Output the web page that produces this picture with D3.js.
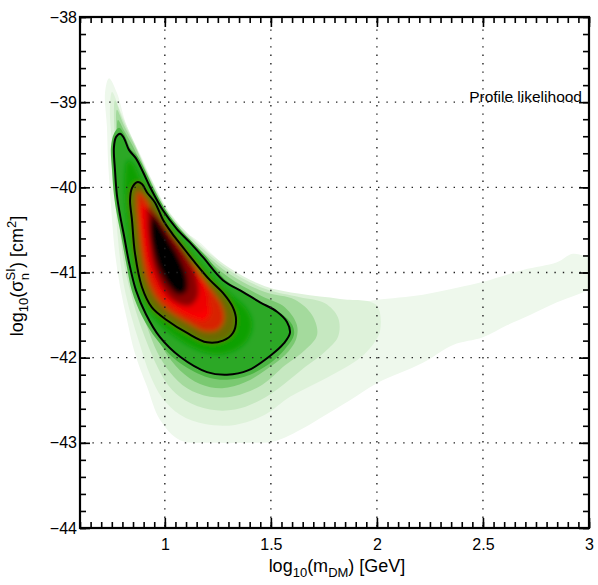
<!DOCTYPE html>
<html>
<head>
<meta charset="utf-8">
<script src="https://cdn.jsdelivr.net/npm/d3@7"></script>
<style>
  body { margin: 0; background: #fff; }
  svg text { font-family: "Liberation Sans", Arial, sans-serif; fill: #000; }
</style>
</head>
<body>
<div id="chart"></div>
<script>
// step 1. DATA (data units: log10 mDM, log10 sigma)
const xMajor = [1, 1.5, 2, 2.5, 3];
const yMajor = [-44, -43, -42, -41, -40, -39, -38];
const xGrid = [1, 1.5, 2, 2.5];
const yGrid = [-43, -42, -41, -40, -39];

// outer likelihood bands, lightest first
const band1 = [[0.737,-38.72],[0.774,-38.89],[0.822,-39.29],[0.897,-39.68],[0.963,-40.07],[1.057,-40.47],[1.152,-40.62],[1.307,-40.97],[1.463,-41.17],[1.590,-41.24],[1.906,-41.35],[2.000,-41.32],[2.217,-41.26],[2.378,-41.18],[2.500,-41.11],[2.689,-40.97],[2.849,-40.88],[2.924,-40.78],[3.005,-40.82],[3.05,-40.80],[3.05,-41.21],[3.000,-41.21],[2.943,-41.26],[2.849,-41.35],[2.722,-41.50],[2.613,-41.62],[2.500,-41.76],[2.359,-41.85],[2.217,-42.06],[2.000,-42.30],[1.873,-42.50],[1.732,-42.71],[1.637,-42.85],[1.519,-42.98],[1.402,-43.00],[1.213,-43.00],[1.072,-42.97],[0.977,-42.73],[0.916,-42.34],[0.859,-41.95],[0.822,-41.56],[0.789,-41.17],[0.765,-40.77],[0.751,-40.38],[0.741,-40.03],[0.732,-39.68],[0.727,-39.29],[0.718,-38.89]];
const band2 = [[0.751,-38.88],[0.793,-39.12],[0.855,-39.47],[0.930,-39.87],[1.024,-40.30],[1.142,-40.62],[1.307,-40.95],[1.472,-41.16],[1.637,-41.25],[1.826,-41.31],[1.996,-41.38],[2.015,-41.68],[1.967,-41.89],[1.906,-42.03],[1.746,-42.26],[1.590,-42.46],[1.472,-42.67],[1.331,-42.79],[1.189,-42.78],[1.072,-42.67],[0.987,-42.47],[0.930,-42.20],[0.883,-41.85],[0.840,-41.50],[0.807,-41.15],[0.784,-40.74],[0.770,-40.32],[0.760,-39.91],[0.751,-39.50],[0.741,-39.09]];
const band3 = [[0.765,-38.98],[0.803,-39.21],[0.859,-39.50],[0.930,-39.89],[1.024,-40.32],[1.142,-40.64],[1.307,-40.98],[1.472,-41.19],[1.637,-41.29],[1.755,-41.36],[1.817,-41.53],[1.817,-41.75],[1.755,-41.93],[1.661,-42.11],[1.557,-42.32],[1.449,-42.50],[1.331,-42.61],[1.213,-42.61],[1.095,-42.50],[1.015,-42.32],[0.954,-42.05],[0.907,-41.77],[0.864,-41.46],[0.826,-41.11],[0.798,-40.74],[0.784,-40.32],[0.774,-39.91],[0.765,-39.44],[0.760,-39.15]];
const band4 = [[0.774,-39.09],[0.807,-39.27],[0.864,-39.54],[0.930,-39.91],[1.024,-40.35],[1.142,-40.67],[1.307,-41.02],[1.472,-41.23],[1.614,-41.32],[1.694,-41.50],[1.718,-41.73],[1.661,-41.91],[1.567,-42.09],[1.458,-42.32],[1.331,-42.45],[1.213,-42.46],[1.105,-42.36],[1.024,-42.17],[0.963,-41.93],[0.921,-41.67],[0.878,-41.38],[0.840,-41.06],[0.812,-40.71],[0.793,-40.32],[0.784,-39.91],[0.774,-39.50],[0.770,-39.27]];
const band5 = [[0.779,-39.21],[0.807,-39.33],[0.864,-39.59],[0.925,-39.95],[1.015,-40.36],[1.133,-40.68],[1.298,-41.05],[1.458,-41.28],[1.567,-41.41],[1.623,-41.62],[1.618,-41.79],[1.567,-41.97],[1.472,-42.15],[1.378,-42.29],[1.270,-42.36],[1.166,-42.31],[1.072,-42.15],[0.996,-41.91],[0.944,-41.65],[0.897,-41.35],[0.855,-41.01],[0.826,-40.68],[0.803,-40.32],[0.789,-39.97],[0.779,-39.62],[0.774,-39.33]];
const band6 = [[0.784,-39.30],[0.807,-39.37],[0.840,-39.55],[0.873,-39.64],[0.911,-39.82],[0.949,-40.02],[1.005,-40.27],[1.072,-40.49],[1.133,-40.65],[1.194,-40.81],[1.288,-41.09],[1.383,-41.24],[1.463,-41.37],[1.548,-41.48],[1.600,-41.61],[1.609,-41.73],[1.576,-41.87],[1.510,-42.04],[1.402,-42.20],[1.293,-42.26],[1.189,-42.22],[1.058,-42.04],[0.963,-41.79],[0.892,-41.51],[0.845,-41.22],[0.817,-40.88],[0.793,-40.56],[0.774,-40.32],[0.760,-40.09],[0.751,-39.80],[0.746,-39.53],[0.760,-39.37]];

// 95% and 68% credible contours
const contour95 = [[0.789,-39.37],[0.807,-39.42],[0.831,-39.56],[0.864,-39.66],[0.897,-39.82],[0.935,-40.02],[0.991,-40.27],[1.057,-40.49],[1.119,-40.65],[1.180,-40.82],[1.274,-41.09],[1.369,-41.23],[1.449,-41.35],[1.529,-41.46],[1.576,-41.58],[1.590,-41.71],[1.562,-41.83],[1.496,-41.98],[1.392,-42.15],[1.293,-42.20],[1.199,-42.17],[1.072,-41.99],[0.977,-41.76],[0.911,-41.49],[0.864,-41.21],[0.831,-40.88],[0.807,-40.56],[0.789,-40.33],[0.774,-40.09],[0.765,-39.80],[0.760,-39.53],[0.770,-39.41]];
const contour68 = [[0.869,-39.94],[0.892,-39.96],[0.916,-40.06],[0.954,-40.18],[0.991,-40.38],[1.034,-40.54],[1.081,-40.69],[1.138,-40.87],[1.213,-41.09],[1.274,-41.24],[1.321,-41.41],[1.336,-41.56],[1.321,-41.71],[1.274,-41.80],[1.199,-41.82],[1.105,-41.71],[1.010,-41.56],[0.939,-41.41],[0.892,-41.17],[0.859,-40.77],[0.845,-40.38],[0.836,-40.15],[0.845,-40.01]];

// smooth core levels (green peak -> red -> black)
const core1 = [[0.826,-39.68],[0.855,-39.74],[0.883,-39.89],[0.921,-40.03],[0.963,-40.21],[1.010,-40.41],[1.062,-40.57],[1.119,-40.74],[1.175,-40.91],[1.251,-41.12],[1.321,-41.28],[1.383,-41.42],[1.411,-41.58],[1.397,-41.76],[1.340,-41.90],[1.251,-41.96],[1.156,-41.91],[1.057,-41.77],[0.968,-41.58],[0.907,-41.38],[0.869,-41.15],[0.840,-40.79],[0.822,-40.41],[0.812,-40.09],[0.812,-39.86]];
const core2 = [[0.873,-40.05],[0.902,-40.11],[0.940,-40.27],[0.982,-40.45],[1.034,-40.62],[1.095,-40.81],[1.166,-41.03],[1.227,-41.23],[1.270,-41.40],[1.279,-41.56],[1.251,-41.67],[1.189,-41.69],[1.109,-41.59],[1.024,-41.46],[0.963,-41.31],[0.921,-41.11],[0.892,-40.79],[0.878,-40.44],[0.869,-40.21]];
const core3 = [[0.883,-40.21],[0.916,-40.29],[0.958,-40.48],[1.010,-40.68],[1.072,-40.88],[1.142,-41.11],[1.194,-41.30],[1.213,-41.46],[1.189,-41.56],[1.119,-41.52],[1.034,-41.39],[0.977,-41.24],[0.940,-41.03],[0.911,-40.74],[0.892,-40.48]];
const core4 = [[0.892,-40.21],[0.940,-40.30],[1.005,-40.52],[1.081,-40.74],[1.156,-40.99],[1.204,-41.26],[1.194,-41.44],[1.138,-41.49],[1.053,-41.38],[0.977,-41.21],[0.925,-40.95],[0.892,-40.62],[0.878,-40.36]];
const core5 = [[0.921,-40.23],[0.963,-40.32],[1.024,-40.52],[1.095,-40.76],[1.147,-41.03],[1.156,-41.28],[1.119,-41.39],[1.048,-41.35],[0.987,-41.18],[0.944,-40.92],[0.925,-40.62],[0.916,-40.38]];
const core6 = [[0.944,-40.34],[0.980,-40.45],[1.027,-40.64],[1.074,-40.85],[1.105,-41.06],[1.100,-41.23],[1.062,-41.26],[1.015,-41.15],[0.970,-40.95],[0.942,-40.71],[0.930,-40.49]];

const bandColors = ["#eef8ec", "#def2da", "#c6e8c1", "#a4da9d", "#7ac971", "#4cb543", "#2ca826"];
const coreColors = ["#08a004", "#6a6a00", "#d82200", "#ff0000", "#f00000", "#8a0000", "#000000"];

// step 2. SIZES AND SCALES
const width = 598, height = 585;
const plotLeft = 80, plotRight = 589, plotTop = 17, plotBottom = 528;

const xScale = d3.scaleLinear().domain([0.6, 3]).range([plotLeft, plotRight]);
const yScale = d3.scaleLinear().domain([-44, -38]).range([plotBottom, plotTop]);

const svg = d3.select("#chart").append("svg")
  .attr("width", width)
  .attr("height", height);

svg.append("defs").call(defs => {
  defs.append("clipPath").attr("id", "plotclip")
    .append("rect").attr("x", plotLeft).attr("y", plotTop)
    .attr("width", plotRight - plotLeft).attr("height", plotBottom - plotTop);
  defs.append("filter").attr("id", "soft")
    .attr("x", "-20%").attr("y", "-20%").attr("width", "140%").attr("height", "140%")
    .append("feGaussianBlur").attr("stdDeviation", 2.6);
});

const shape = d3.line()
  .x(d => xScale(d[0]))
  .y(d => yScale(d[1]))
  .curve(d3.curveCatmullRomClosed.alpha(0.5));

// step 3. FILLED LIKELIHOOD LEVELS
const plot = svg.append("g").attr("clip-path", "url(#plotclip)");

const outerLevels = [band1, band2, band3, band4, band5, band6, contour95];
plot.append("g").selectAll("path")
  .data(outerLevels)
  .join("path")
  .attr("d", shape)
  .attr("fill", (d, i) => bandColors[i]);

const coreLevels = [core1, contour68, core2, core3, core4, core5, core6];
plot.append("g").attr("filter", "url(#soft)")
  .selectAll("path")
  .data(coreLevels)
  .join("path")
  .attr("d", shape)
  .attr("fill", (d, i) => coreColors[i]);

// dotted grid on top of the colours
const grid = svg.append("g")
  .attr("stroke", "#222")
  .attr("stroke-width", 1.4)
  .attr("stroke-dasharray", "1.4,7")
  .attr("fill", "none");
grid.selectAll("line.gx").data(xGrid).join("line")
  .attr("class", "gx")
  .attr("x1", d => xScale(d)).attr("x2", d => xScale(d))
  .attr("y1", plotTop + 4).attr("y2", plotBottom);
grid.selectAll("line.gy").data(yGrid).join("line")
  .attr("class", "gy")
  .attr("y1", d => yScale(d)).attr("y2", d => yScale(d))
  .attr("x1", plotLeft + 4).attr("x2", plotRight);

// contour lines
plot.append("g").selectAll("path")
  .data([contour95, contour68])
  .join("path")
  .attr("d", shape)
  .attr("fill", "none")
  .attr("stroke", "#000")
  .attr("stroke-width", 2);

// step 4. AXES (ticks inward on all sides)
const fmt = d => String(d).replace("-", "\u2212");
const xMinor = d3.range(0.6, 3.001, 0.05).map(v => +v.toFixed(2));
const yMinor = d3.range(-44, -37.99, 0.2).map(v => +v.toFixed(1));

function styleAxis(g) {
  g.select(".domain").remove();
  g.selectAll("line").attr("stroke", "#000").attr("stroke-width", 1.6);
  g.selectAll("text").attr("font-size", 16).attr("font-family", "Liberation Sans, Arial, sans-serif");
}

svg.append("g").attr("transform", `translate(0,${plotBottom})`)
  .call(d3.axisBottom(xScale).tickValues(xMinor).tickFormat("").tickSize(-6)).call(styleAxis);
svg.append("g").attr("transform", `translate(0,${plotBottom})`)
  .call(d3.axisBottom(xScale).tickValues(xMajor).tickFormat(fmt).tickSize(-10).tickPadding(11)).call(styleAxis);
svg.append("g").attr("transform", `translate(0,${plotTop})`)
  .call(d3.axisTop(xScale).tickValues(xMinor).tickFormat("").tickSize(-6)).call(styleAxis);
svg.append("g").attr("transform", `translate(0,${plotTop})`)
  .call(d3.axisTop(xScale).tickValues(xMajor).tickFormat("").tickSize(-10)).call(styleAxis);

svg.append("g").attr("transform", `translate(${plotLeft},0)`)
  .call(d3.axisLeft(yScale).tickValues(yMinor).tickFormat("").tickSize(-6)).call(styleAxis);
svg.append("g").attr("transform", `translate(${plotLeft},0)`)
  .call(d3.axisLeft(yScale).tickValues(yMajor).tickFormat(fmt).tickSize(-10).tickPadding(3)).call(styleAxis);
svg.append("g").attr("transform", `translate(${plotRight},0)`)
  .call(d3.axisRight(yScale).tickValues(yMinor).tickFormat("").tickSize(-6)).call(styleAxis);
svg.append("g").attr("transform", `translate(${plotRight},0)`)
  .call(d3.axisRight(yScale).tickValues(yMajor).tickFormat("").tickSize(-10)).call(styleAxis);

// frame
svg.append("rect")
  .attr("x", plotLeft).attr("y", plotTop)
  .attr("width", plotRight - plotLeft).attr("height", plotBottom - plotTop)
  .attr("fill", "none").attr("stroke", "#000").attr("stroke-width", 2.2);

// step 5. LABELS
svg.append("text")
  .attr("x", 582).attr("y", 102)
  .attr("text-anchor", "end").attr("font-size", 15.5)
  .text("Profile likelihood");

const xl = svg.append("text")
  .attr("x", 337).attr("y", 572)
  .attr("text-anchor", "middle").attr("font-size", 18);
xl.append("tspan").text("log");
xl.append("tspan").attr("font-size", 13).attr("dy", 5).text("10");
xl.append("tspan").attr("dy", -5).text("(m");
xl.append("tspan").attr("font-size", 13).attr("dy", 5).text("DM");
xl.append("tspan").attr("dy", -5).text(") [GeV]");

const yl = svg.append("text")
  .attr("transform", "translate(23,276) rotate(-90)")
  .attr("text-anchor", "middle").attr("font-size", 18);
yl.append("tspan").text("log");
yl.append("tspan").attr("font-size", 13).attr("dy", 5).text("10");
yl.append("tspan").attr("dy", -5).text("(\u03c3");
yl.append("tspan").attr("font-size", 13).attr("dy", -8).text("SI");
yl.append("tspan").attr("font-size", 13).attr("dx", -12).attr("dy", 14).text("n");
yl.append("tspan").attr("dx", 5).attr("dy", -6).text(") [cm");
yl.append("tspan").attr("font-size", 13).attr("dy", -7).text("2");
yl.append("tspan").attr("dy", 7).text("]");
</script>
</body>
</html>
